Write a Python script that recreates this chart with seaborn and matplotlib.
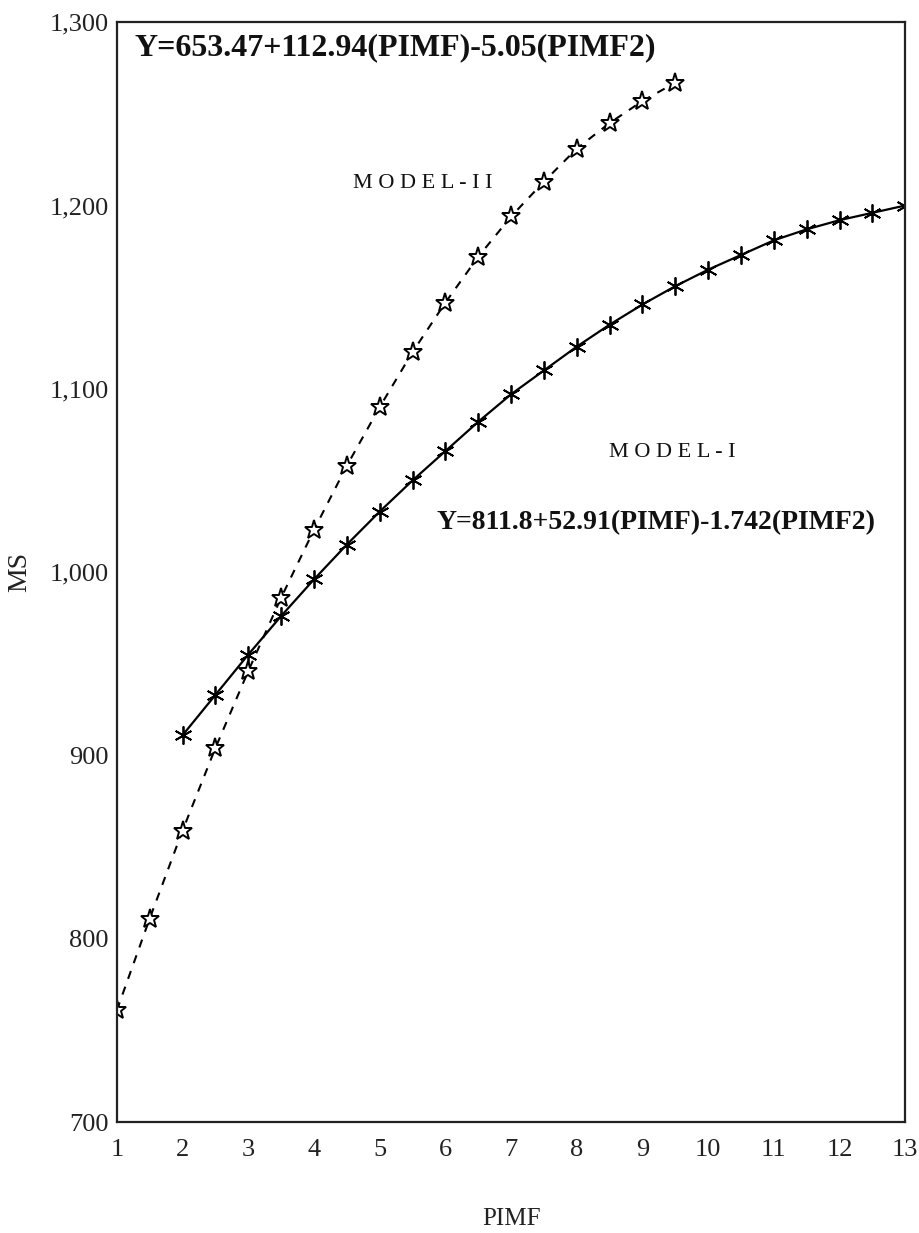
import matplotlib
matplotlib.use("Agg")
import matplotlib.pyplot as plt
import seaborn as sns
import pandas as pd

# ---- data ----
pimf_m1 = [2, 2.5, 3, 3.5, 4, 4.5, 5, 5.5, 6, 6.5, 7, 7.5, 8, 8.5, 9, 9.5,
           10, 10.5, 11, 11.5, 12, 12.5, 13]
ms_m1 = [911, 933, 955, 976, 996, 1015, 1033, 1050, 1066, 1082, 1097, 1110,
         1123, 1135, 1146, 1156, 1165, 1173, 1181, 1187, 1192, 1196, 1200]

pimf_m2 = [1, 1.5, 2, 2.5, 3, 3.5, 4, 4.5, 5, 5.5, 6, 6.5, 7, 7.5, 8, 8.5, 9, 9.5]
ms_m2 = [761, 811, 859, 904, 946, 986, 1023, 1058, 1090, 1120, 1147, 1172,
         1194, 1213, 1231, 1245, 1257, 1267]

x_ticks = [1, 2, 3, 4, 5, 6, 7, 8, 9, 10, 11, 12, 13]
y_ticks = [700, 800, 900, 1000, 1100, 1200, 1300]
y_tick_labels = ["700", "800", "900", "1,000", "1,100", "1,200", "1,300"]

eq_m2 = "Y=653.47+112.94(PIMF)-5.05(PIMF2)"
eq_m1 = "Y=811.8+52.91(PIMF)-1.742(PIMF2)"
label_m2 = "M O D E L - I I"
label_m1 = "M O D E L - I"

sns.set_theme(style="white")
plt.rcParams["font.family"] = ["Liberation Serif", "DejaVu Serif"]

fig = plt.figure(figsize=(9.2, 12.33), dpi=100)
ax = fig.add_axes([0.127, 0.09, 0.857, 0.892])

df1 = pd.DataFrame({"PIMF": pimf_m1, "MS": ms_m1})
df2 = pd.DataFrame({"PIMF": pimf_m2, "MS": ms_m2})

sns.lineplot(data=df1, x="PIMF", y="MS", ax=ax, color="black", linewidth=1.6,
             marker=(6, 2, 0), markersize=13, markeredgewidth=1.3,
             markeredgecolor="black")
sns.lineplot(data=df2, x="PIMF", y="MS", ax=ax, color="black", linewidth=1.5,
             linestyle=(0, (4, 4)), marker="*", markersize=14,
             markerfacecolor="white", markeredgecolor="black",
             markeredgewidth=1.4)

ax.set_xlim(1, 13)
ax.set_ylim(700, 1300)
ax.set_xticks(x_ticks)
ax.set_xticklabels([str(v) for v in x_ticks])
ax.set_yticks(y_ticks)
ax.set_yticklabels(y_tick_labels)
ax.tick_params(axis="both", length=0, labelsize=19, colors="#222222")
ax.tick_params(axis="x", pad=12)
ax.tick_params(axis="y", pad=6)

for s in ax.spines.values():
    s.set_visible(True)
    s.set_color("#222222")
    s.set_linewidth(1.6)

ax.set_xlabel("PIMF", fontsize=18, labelpad=34, color="#222222")
ax.set_ylabel("MS", fontsize=20, labelpad=12, color="#222222")

ax.text(1.27, 1286, eq_m2, fontsize=23, color="#111111", va="center",
        ha="left", fontweight="bold")
ax.text(5.66, 1212, label_m2, fontsize=16, color="#111111", va="center",
        ha="center")
ax.text(9.45, 1065, label_m1, fontsize=16, color="#111111", va="center",
        ha="center")
ax.text(5.87, 1027, eq_m1, fontsize=20, color="#111111", va="center",
        ha="left", fontweight="bold")

fig.savefig("out.png", dpi=100, facecolor="white")
